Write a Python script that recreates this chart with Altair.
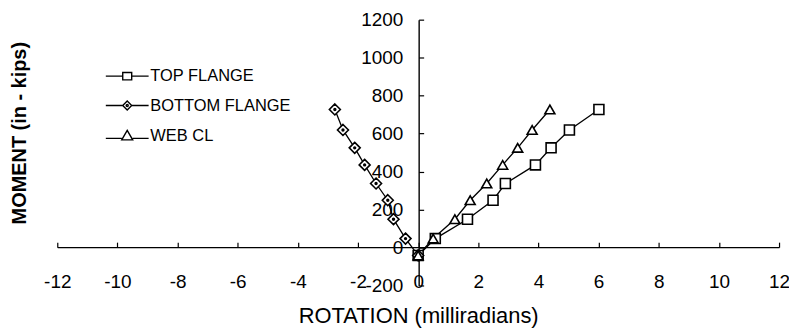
import altair as alt
import pandas as pd

series = ["TOP FLANGE", "BOTTOM FLANGE", "WEB CL"]
moment = [-42, 47, 149, 249, 337, 435, 525, 619, 727]
rot_top = [0, 0.57, 1.64, 2.49, 2.90, 3.90, 4.42, 5.03, 6.01]
rot_bottom = [0, -0.42, -0.82, -1.01, -1.40, -1.78, -2.11, -2.50, -2.77]
rot_web = [0, 0.50, 1.22, 1.73, 2.28, 2.81, 3.31, 3.79, 4.38]

x_ticks = list(range(-12, 13, 2))
y_ticks = list(range(-200, 1201, 200))

rows = []
for name, rots in zip(series, [rot_top, rot_bottom, rot_web]):
    for i, (r, m) in enumerate(zip(rots, moment)):
        rows.append({"series": name, "rotation": r, "moment": m, "order": i})
df = pd.DataFrame(rows)

FONT = "Liberation Sans"
W, H = 725, 267

diamond_dot = ("M0,-1.1L1.1,0L0,1.1L-1.1,0Z "
               "M-0.18,0A0.18,0.18 0 1 0 0.18,0A0.18,0.18 0 1 0 -0.18,0Z")
point_shapes = ["square", diamond_dot, "triangle-up"]

legend_shapes = [
    "M-4.3,0H-0.9M0.9,0H4.3M-0.9,-0.75H0.9V0.75H-0.9Z",
    "M-4.3,0H-0.9M0.9,0H4.3M0,-0.9L0.9,0L0,0.9L-0.9,0Z "
    "M-0.2,0A0.2,0.2 0 1 0 0.2,0A0.2,0.2 0 1 0 -0.2,0Z",
    "M-4.3,0.5H-1.1M1.1,0.5H4.3M0,-1.1L1.1,0.8L-1.1,0.8Z",
]

xscale = alt.Scale(domain=[-12, 12], nice=False, zero=False)
yscale = alt.Scale(domain=[-200, 1200], nice=False, zero=False)

LABEL_EXPR = "'' + datum.value"

# labels-only axes (bottom / left, moved to the y-axis position)
x_lab_axis = alt.Axis(values=x_ticks, domain=False, ticks=False, tickSize=0, grid=False,
                      labelExpr=LABEL_EXPR, labelFlush=False,
                      labelFont=FONT, labelFontSize=19, labelColor="black",
                      labelBaseline="alphabetic", labelPadding=2,
                      title="ROTATION (milliradians)", titleFont=FONT, titleFontSize=22,
                      titleFontWeight="normal", titleColor="black",
                      titleBaseline="alphabetic", titleY=37)
y_lab_axis = alt.Axis(values=y_ticks, domain=False, ticks=False, tickSize=0, grid=False,
                      offset=-363, labelPadding=16, labelExpr=LABEL_EXPR, labelFlush=False,
                      labelFont=FONT, labelFontSize=19, labelColor="black",
                      title="MOMENT (in - kips)", titleFont=FONT, titleFontSize=20,
                      titleFontWeight="bold", titleColor="black",
                      titleBaseline="middle", titleAngle=270, titleX=-401, titleY=113.5)

# line-and-tick axes crossing at the origin
x_line_axis = alt.Axis(orient="top", values=x_ticks, offset=-228.5, labels=False,
                       domain=True, domainColor="black", domainWidth=1.4,
                       ticks=True, tickSize=5, tickColor="black", tickWidth=1.2,
                       grid=False, title=None)
y_line_axis = alt.Axis(orient="right", values=y_ticks, offset=-362, labels=False,
                       domain=True, domainColor="black", domainWidth=1.4,
                       ticks=True, tickSize=5, tickColor="black", tickWidth=1.2,
                       grid=False, title=None)

lines = alt.Chart(df).mark_line(color="black", strokeWidth=1.3).encode(
    x=alt.X("rotation:Q", scale=xscale, axis=x_lab_axis),
    y=alt.Y("moment:Q", scale=yscale, axis=y_lab_axis),
    detail="series:N",
    order="order:Q",
)

points = alt.Chart(df).mark_point(filled=True, fill="white", stroke="black",
                                  strokeWidth=1.6, opacity=1, size=100).encode(
    x=alt.X("rotation:Q", scale=xscale, axis=x_line_axis),
    y=alt.Y("moment:Q", scale=yscale, axis=y_line_axis),
    shape=alt.Shape("series:N", scale=alt.Scale(domain=series, range=point_shapes),
                    legend=None),
)

legend_layer = alt.Chart(df).transform_filter("false").mark_point(
    filled=False, color="black", strokeWidth=1.4, opacity=1
).encode(
    x=alt.X("rotation:Q", scale=xscale, axis=None),
    y=alt.Y("moment:Q", scale=yscale, axis=None),
    shape=alt.Shape("series:N",
                    scale=alt.Scale(domain=series, range=legend_shapes),
                    legend=alt.Legend(title=None, orient="none", legendX=62, legendY=48.5,
                                      padding=0, symbolSize=100, symbolStrokeWidth=1.4,
                                      symbolStrokeColor="black", symbolOpacity=1,
                                      labelFont=FONT, labelFontSize=16.5, labelColor="black",
                                      labelOffset=15, rowPadding=12.5)),
)

chart = alt.layer(lines, points, legend_layer).resolve_scale(
    shape="independent"
).resolve_axis(
    x="independent", y="independent"
).properties(
    width=W, height=H,
    autosize=alt.AutoSizeParams(type="none"),
    padding={"left": 49.5, "top": 11, "right": 10, "bottom": 42},
    background="white",
).configure_view(stroke=None)

chart.save("out.html", embed_options={"renderer": "svg", "actions": False})
